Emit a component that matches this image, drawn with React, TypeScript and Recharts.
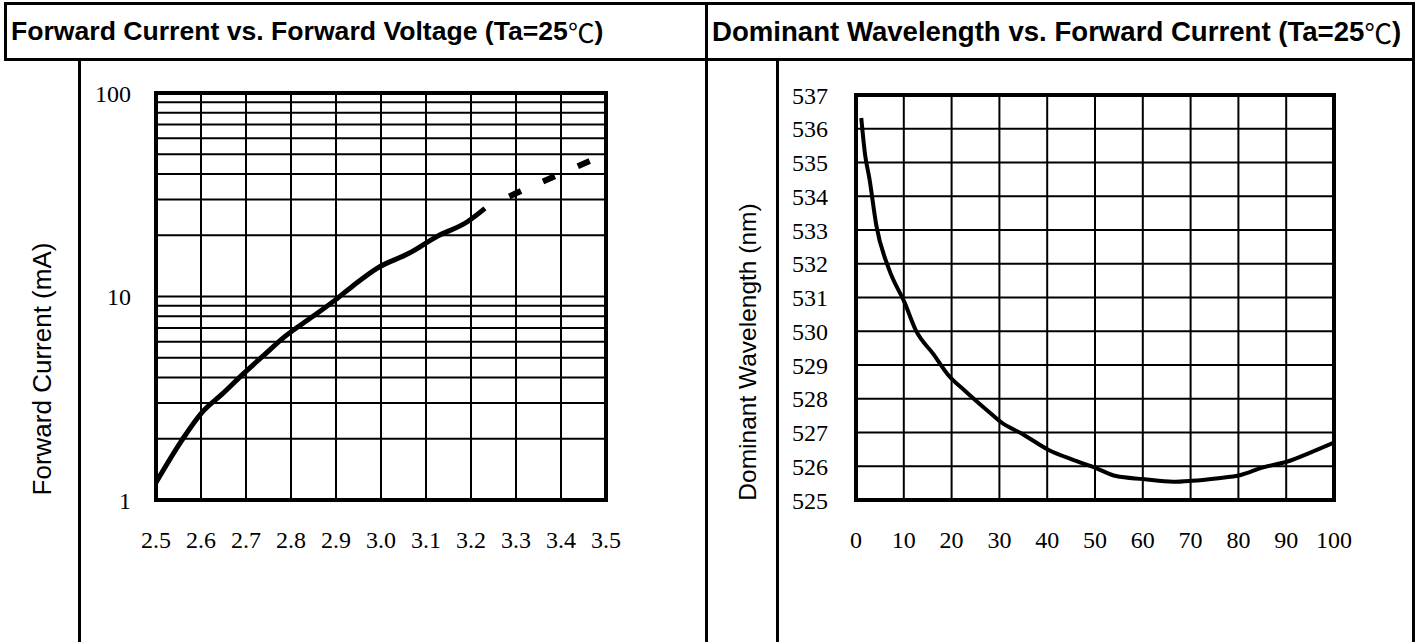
import { LineChart, Line, XAxis, YAxis, CartesianGrid, ReferenceArea } from 'recharts';

// Forward current vs forward voltage (log scale)
const fvVoltage = [2.5, 2.557, 2.6, 2.648, 2.695, 2.74, 2.786, 2.848, 2.898, 2.94, 2.992, 3.062, 3.124, 3.192, 3.231];
const fvCurrent = [1.22, 1.96, 2.66, 3.33, 4.19, 5.15, 6.35, 7.97, 9.6, 11.4, 13.8, 16.3, 19.7, 23.3, 27.1];
// extrapolated part, drawn dashed
const fvDashVoltage = [3.231, 3.299, 3.375, 3.466];
const fvDashCurrent = [27.1, 32.1, 38.0, 46.6];
const voltageTicks = [2.5, 2.6, 2.7, 2.8, 2.9, 3.0, 3.1, 3.2, 3.3, 3.4, 3.5];
const currentTicks = [1, 2, 3, 4, 5, 6, 7, 8, 9, 10, 20, 30, 40, 50, 60, 70, 80, 90, 100];
const currentLabels = [1, 10, 100];

// Dominant wavelength vs forward current
const wlCurrent = [1.1, 1.9, 2.8, 4.25, 6.9, 10.2, 12.5, 16.2, 19.2, 23, 27.4, 30.4, 34.9, 40.2, 45.4, 50.3, 54.4, 60.1, 66.3, 70.3, 75.3, 80.5, 85, 90.3, 94.8, 100];
const wlValue = [536.32, 535.23, 534.53, 533.14, 531.84, 530.84, 530.03, 529.32, 528.72, 528.21, 527.66, 527.3, 526.95, 526.49, 526.19, 525.94, 525.71, 525.62, 525.54, 525.57, 525.64, 525.74, 525.96, 526.14, 526.39, 526.7];
const wlCurrentTicks = [0, 10, 20, 30, 40, 50, 60, 70, 80, 90, 100];
const wlTicks = [525, 526, 527, 528, 529, 530, 531, 532, 533, 534, 535, 536, 537];

const fvData = fvVoltage.map((v, i) => ({ v, i: fvCurrent[i] }));
const fvDashData = fvDashVoltage.map((v, i) => ({ v, i: fvDashCurrent[i] }));
const wlData = wlCurrent.map((c, i) => ({ c, wl: wlValue[i] }));

const serifTick = { fontFamily: '"Liberation Serif", "Times New Roman", serif', fontSize: 24, fill: '#000' };
const sans = '"Liberation Sans", Arial, "Noto Sans CJK SC", sans-serif';

function Title({ left, width, size, text }: { left: number; width: number; size: number; text: string }) {
  return (
    <div
      style={{
        position: 'absolute', left, top: 2, width, height: 59, boxSizing: 'border-box',
        border: '3px solid #000', display: 'flex', alignItems: 'center', paddingLeft: 4,
        fontFamily: sans, fontWeight: 700, fontSize: size, color: '#000', whiteSpace: 'nowrap'
      }}
    >
      {text}
      <span style={{ fontWeight: 400, fontFamily: '"Noto Sans CJK SC", sans-serif' }}>℃</span>
      )
    </div>
  );
}

function VLine({ x }: { x: number }) {
  return <div style={{ position: 'absolute', left: x, top: 61, width: 3, height: 581, background: '#000' }} />;
}

function AxisTitle({ x, y, size, text }: { x: number; y: number; size: number; text: string }) {
  return (
    <div
      style={{
        position: 'absolute', left: x, top: y, transform: 'translate(-50%, -50%) rotate(-90deg)',
        fontFamily: sans, fontSize: size, color: '#000', whiteSpace: 'nowrap'
      }}
    >
      {text}
    </div>
  );
}

export default function App() {
  return (
    <div style={{ position: 'absolute', left: 0, top: 0, width: 1416, height: 642, background: '#fff', overflow: 'hidden' }}>
      <Title left={4} width={704} size={26.6} text="Forward Current vs. Forward Voltage (Ta=25" />
      <Title left={705} width={710} size={27.6} text="Dominant Wavelength vs. Forward Current (Ta=25" />
      <VLine x={78} />
      <VLine x={705} />
      <VLine x={776} />
      <VLine x={1412} />

      <AxisTitle x={42} y={369} size={26} text="Forward Current (mA)" />
      <AxisTitle x={748} y={352} size={24.5} text="Dominant Wavelength (nm)" />

      {/* Forward current chart */}
      <div style={{ position: 'absolute', left: 0, top: 61 }}>
        <LineChart width={707} height={581} margin={{ top: 32, right: 101, bottom: 82, left: 56 }}>
          <CartesianGrid stroke="#000" strokeWidth={2} />
          <XAxis
            dataKey="v" type="number" domain={[2.5, 3.5]} ticks={voltageTicks}
            tickFormatter={(t: number) => t.toFixed(1)} axisLine={false} tickLine={false}
            tickSize={0} tickMargin={31} height={60} interval={0} tick={serifTick} allowDataOverflow
          />
          <YAxis
            dataKey="i" type="number" scale="log" domain={[1, 100]} ticks={currentTicks}
            tickFormatter={(t: number) => (currentLabels.includes(t) ? String(t) : '')}
            axisLine={false} tickLine={false} tickSize={0} tickMargin={25} width={100}
            interval={0} tick={serifTick} allowDataOverflow
          />
          <ReferenceArea x1={2.5} x2={3.5} y1={1} y2={100} fill="none" stroke="#000" strokeWidth={4} />
          <Line data={fvData} dataKey="i" type="monotone" stroke="#000" strokeWidth={5} dot={false} isAnimationActive={false} />
          <Line
            data={fvDashData} dataKey="i" type="monotone" stroke="#000" strokeWidth={6} dot={false}
            strokeDasharray="0 27 13 24 13 25 13 40" isAnimationActive={false}
          />
        </LineChart>
      </div>

      {/* Dominant wavelength chart */}
      <div style={{ position: 'absolute', left: 707, top: 61 }}>
        <LineChart width={707} height={581} margin={{ top: 34, right: 80, bottom: 82, left: 49 }}>
          <CartesianGrid stroke="#000" strokeWidth={2} />
          <XAxis
            dataKey="c" type="number" domain={[0, 100]} ticks={wlCurrentTicks}
            axisLine={false} tickLine={false} tickSize={0} tickMargin={31} height={60}
            interval={0} tick={serifTick} allowDataOverflow
          />
          <YAxis
            dataKey="wl" type="number" domain={[525, 537]} ticks={wlTicks}
            axisLine={false} tickLine={false} tickSize={0} tickMargin={28} width={100}
            interval={0} tick={serifTick} allowDataOverflow
          />
          <ReferenceArea x1={0} x2={100} y1={525} y2={537} fill="none" stroke="#000" strokeWidth={4} />
          <Line data={wlData} dataKey="wl" type="monotone" stroke="#000" strokeWidth={4} dot={false} isAnimationActive={false} />
        </LineChart>
      </div>
    </div>
  );
}
